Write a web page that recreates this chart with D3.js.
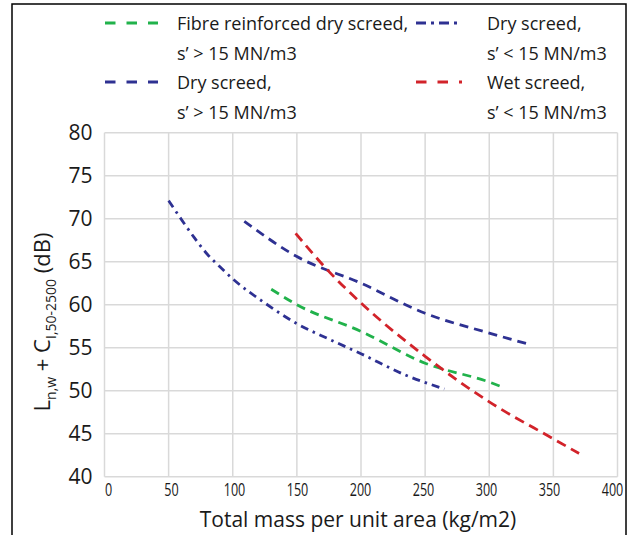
<!DOCTYPE html>
<html>
<head>
<meta charset="utf-8">
<script src="https://cdn.jsdelivr.net/npm/d3@7"></script>
<style>
  body { margin: 0; background: #fff; }
  svg text { font-family: "Open Sans", "Noto Sans", sans-serif; fill: #1a1a1a; }
</style>
</head>
<body>
<div id="chart"></div>
<script>
var width = 628;
var height = 535;

// values
var massFibre = [130, 150, 200, 250, 300, 309];
var lnFibre = [61.8, 60.0, 56.9, 53.2, 51.0, 50.5];

var massDryHigh = [109, 150, 200, 250, 300, 331];
var lnDryHigh = [69.7, 65.6, 62.5, 59.0, 56.7, 55.4];

var massDryLow = [50, 60, 70, 80, 90, 100, 125, 150, 175, 200, 235, 265];
var lnDryLow = [72.1, 69.9, 67.8, 65.9, 64.4, 63.0, 60.2, 57.8, 56.0, 54.3, 51.8, 50.2];

var massWet = [149, 176, 200, 250, 300, 350, 370];
var lnWet = [68.3, 63.7, 60.2, 54.0, 48.7, 44.4, 42.7];

var xTicks = [0, 50, 100, 150, 200, 250, 300, 350, 400];
var yTicks = [40, 45, 50, 55, 60, 65, 70, 75, 80];

var legendNames = [
    ["Fibre reinforced dry screed,", "s\u2019 > 15 MN/m3"],
    ["Dry screed,", "s\u2019 < 15 MN/m3"],
    ["Dry screed,", "s\u2019 > 15 MN/m3"],
    ["Wet screed,", "s\u2019 < 15 MN/m3"]
];

var green = "#21b24b";
var navy = "#2e3192";
var red = "#d2232a";

var series = [
    {x: massFibre, y: lnFibre, color: green, dash: "9,6"},
    {x: massDryLow, y: lnDryLow, color: navy, dash: "8,5,2.5,5"},
    {x: massDryHigh, y: lnDryHigh, color: navy, dash: "9,6"},
    {x: massWet, y: lnWet, color: red, dash: "10,6"}
];

var legendDash = ["10.5,11", "10,5,3,5", "10.5,11", "10.5,11"];

var svg = d3.select("#chart").append("svg")
    .attr("width", width).attr("height", height);

// outer frame
svg.append("rect")
    .attr("x", 12).attr("y", 4)
    .attr("width", 614).attr("height", 560)
    .attr("fill", "none").attr("stroke", "#000").attr("stroke-width", 1.5);

var x = d3.scaleLinear().domain([0, 400]).range([104.5, 617.5]);
var y = d3.scaleLinear().domain([40, 80]).range([476.7, 132.7]);
// tick labels sit a little inside the gridlines in the reference
var xLabel = d3.scaleLinear().domain([0, 400]).range([108, 612]);

// grid
svg.append("g").selectAll("line").data(xTicks).enter().append("line")
    .attr("x1", d => x(d)).attr("x2", d => x(d))
    .attr("y1", y(40)).attr("y2", y(80))
    .style("stroke", "#d9d9d9").style("stroke-width", 1.5);
svg.append("g").selectAll("line").data(yTicks).enter().append("line")
    .attr("x1", x(0)).attr("x2", x(400))
    .attr("y1", d => y(d)).attr("y2", d => y(d))
    .style("stroke", "#d9d9d9").style("stroke-width", 1.5);

// axes (labels only)
var xAxis = svg.append("g")
    .attr("transform", "translate(0," + y(40) + ")")
    .call(d3.axisBottom(xLabel).tickValues(xTicks).tickSize(0).tickPadding(7));
xAxis.select(".domain").remove();
xAxis.selectAll("text")
    .style("font-size", "18px")
    .attr("transform", "scale(0.7,1)")
    .attr("fill", "#1a1a1a");

var yAxis = svg.append("g")
    .attr("transform", "translate(" + x(0) + ",0)")
    .call(d3.axisLeft(y).tickValues(yTicks).tickSize(0).tickPadding(12));
yAxis.select(".domain").remove();
yAxis.selectAll("text")
    .style("font-size", "21px").attr("fill", "#1a1a1a");

// axis titles
svg.append("text")
    .attr("x", 358).attr("y", 527)
    .attr("text-anchor", "middle")
    .style("font-size", "21px")
    .text("Total mass per unit area (kg/m2)");

var yTitle = svg.append("text")
    .attr("transform", "translate(50,322) rotate(-90)")
    .attr("text-anchor", "middle")
    .style("font-size", "22px");
yTitle.append("tspan").text("L");
yTitle.append("tspan").attr("dy", 6).style("font-size", "14px").text("n,w");
yTitle.append("tspan").attr("dy", -6).text(" + C");
yTitle.append("tspan").attr("dy", 6).style("font-size", "14px").text("I,50-2500");
yTitle.append("tspan").attr("dy", -6).text(" (dB)");

// curves
var line = d3.line()
    .x(d => x(d[0]))
    .y(d => y(d[1]))
    .curve(d3.curveMonotoneX);

series.forEach(function(s) {
    svg.append("path")
        .datum(s.x.map((v, i) => [v, s.y[i]]))
        .attr("d", line)
        .attr("fill", "none")
        .attr("stroke", s.color)
        .attr("stroke-width", 2.8)
        .attr("stroke-dasharray", s.dash);
});

// legend
var legendX = [105, 416];
var legendTextX = [177, 487];
var legendY = [23, 82];

series.forEach(function(s, i) {
    var col = i % 2;
    var row = Math.floor(i / 2);
    svg.append("line")
        .attr("x1", legendX[col]).attr("x2", legendX[col] + (col === 0 ? 53 : 46))
        .attr("y1", legendY[row]).attr("y2", legendY[row])
        .attr("stroke", s.color).attr("stroke-width", 2.8)
        .attr("stroke-dasharray", legendDash[i]);
    legendNames[i].forEach(function(t, j) {
        svg.append("text")
            .attr("x", legendTextX[col])
            .attr("y", legendY[row] + 7 + j * 30)
            .style("font-size", "18px")
            .text(t);
    });
});
</script>
</body>
</html>
